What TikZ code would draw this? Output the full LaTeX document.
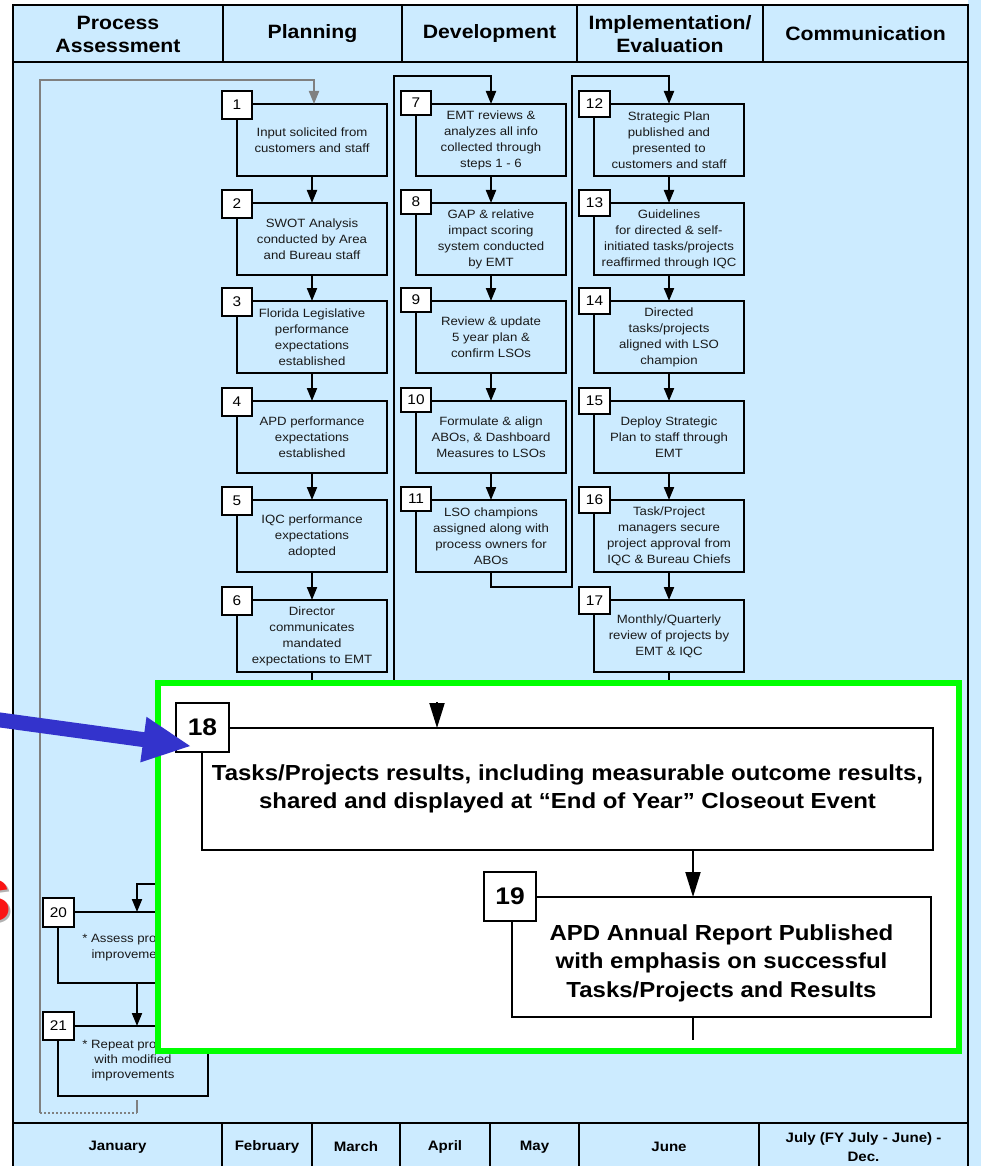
\documentclass[tikz,border=0pt]{standalone}
\usepackage{fontspec}
\setmainfont{Liberation Sans}[FakeStretch=1.1]
\usetikzlibrary{arrows.meta}
\definecolor{paleblue}{RGB}{204,235,255}
\definecolor{ink}{RGB}{26,26,26}
\definecolor{loopgray}{RGB}{128,128,128}
\definecolor{hilite}{RGB}{0,255,0}
\definecolor{pointer}{RGB}{51,51,204}
\definecolor{alertred}{RGB}{250,20,20}

\begin{document}
\begin{tikzpicture}[x=1pt,y=-1pt,
  rule/.style={line width=2.4pt},
  hdr/.style={font=\fontsize{19.3}{23}\selectfont\bfseries, align=center, inner sep=0pt},
  ftr/.style={font=\fontsize{13.7}{19}\selectfont\bfseries, align=center, inner sep=0pt},
  stepbox/.style={draw, line width=2.6pt, fill=paleblue, inner sep=0pt, outer sep=0pt,
    minimum width=150pt, minimum height=72pt, anchor=north west, align=center,
    text=ink, font=\fontsize{12}{16}\selectfont},
  numbox/.style={draw, line width=2.6pt, fill=white, inner sep=0pt, outer sep=0pt,
    minimum width=30pt, minimum height=28pt, anchor=north west, font=\fontsize{14}{14}\selectfont},
  bignum/.style={draw, line width=2.6pt, fill=white, inner sep=0pt, outer sep=0pt,
    minimum width=53pt, minimum height=49pt, anchor=north west, font=\fontsize{24}{24}\selectfont\bfseries},
  result/.style={draw, line width=2.6pt, fill=white, inner sep=0pt, outer sep=0pt, anchor=north west},
  bigtext/.style={align=center, font=\fontsize{21.8}{28.5}\selectfont\bfseries, inner sep=0pt},
  wire/.style={line width=2pt},
  flow/.style={line width=2pt, -{Triangle[length=13pt,width=10pt]}},
  bigflow/.style={line width=2pt, -{Triangle[length=25pt,width=15pt]}},
  loopline/.style={line width=2pt, draw=loopgray}
]
\useasboundingbox (0,0) rectangle (981,1166);

% page and frame background
\fill[white] (0,0) rectangle (981,1166);
\fill[paleblue] (13,5) rectangle (981,1166);
\fill[paleblue] (968,0) rectangle (981,1166);

% header and footer rules
\draw[rule] (13,1166) -- (13,5) -- (968,5) -- (968,1166);
\draw[rule] (13,62) -- (968,62);
\draw[rule] (13,1123) -- (968,1123);
\foreach \x in {223,402,577,763} \draw[rule] (\x,5) -- (\x,62);
\foreach \x in {222,312,400,490,579,759} \draw[rule] (\x,1123) -- (\x,1166);

% phase headings
\node[hdr] (hpa) at (118,34) {Process\\Assessment};
\node[hdr] (hpl) at (312.5,34) {Planning};
\node[hdr] (hdv) at (489.5,34) {Development};
\node[hdr] (hie) at (670,34) {Implementation/\\Evaluation};
\node[hdr] (hcm) at (865.5,34) {Communication};

% month row
\node[ftr] (mjan) at (117.5,1147) {January};
\node[ftr] (mfeb) at (267,1147) {February};
\node[ftr] (mmar) at (356,1147) {March};
\node[ftr] (mapr) at (445,1147) {April};
\node[ftr] (mmay) at (534.5,1147) {May};
\node[ftr] (mjun) at (669,1147) {June};
\node[ftr] (mjul) at (863.5,1147) {July (FY July - June) -\\Dec.};

% planning column
\node[stepbox] (b1) at (237,104) {Input solicited from\\customers and staff};
\node[stepbox] (b2) at (237,203) {SWOT Analysis\\conducted by Area\\and Bureau staff};
\node[stepbox] (b3) at (237,301) {Florida Legislative\\performance\\expectations\\established};
\node[stepbox] (b4) at (237,401) {APD performance\\expectations\\established};
\node[stepbox] (b5) at (237,500) {IQC performance\\expectations\\adopted};
\node[stepbox] (b6) at (237,600) {Director\\communicates\\mandated\\expectations to EMT};
\node[numbox] (n1) at (222,91) {1};
\node[numbox] (n2) at (222,190) {2};
\node[numbox] (n3) at (222,288) {3};
\node[numbox] (n4) at (222,388) {4};
\node[numbox] (n5) at (222,487) {5};
\node[numbox] (n6) at (222,587) {6};

% development column
\node[stepbox] (b7) at (416,104) {EMT reviews \&\\analyzes all info\\collected through\\steps 1 - 6};
\node[stepbox] (b8) at (416,203) {GAP \& relative\\impact scoring\\system conducted\\by EMT};
\node[stepbox] (b9) at (416,301) {Review \& update\\5 year plan \&\\confirm LSOs};
\node[stepbox] (b10) at (416,401) {Formulate \& align\\ABOs, \& Dashboard\\Measures to LSOs};
\node[stepbox] (b11) at (416,500) {LSO champions\\assigned along with\\process owners for\\ABOs};
\node[numbox, minimum height=24pt] (n7) at (401,91) {7};
\node[numbox, minimum height=24pt] (n8) at (401,190) {8};
\node[numbox, minimum height=24pt] (n9) at (401,288) {9};
\node[numbox, minimum height=24pt] (n10) at (401,388) {10};
\node[numbox, minimum height=24pt] (n11) at (401,487) {11};

% implementation column
\node[stepbox] (b12) at (594,104) {Strategic Plan\\published and\\presented to\\customers and staff};
\node[stepbox] (b13) at (594,203) {Guidelines\\for directed \& self-\\initiated tasks/projects\\reaffirmed through IQC};
\node[stepbox] (b14) at (594,301) {Directed\\tasks/projects\\aligned with LSO\\champion};
\node[stepbox] (b15) at (594,401) {Deploy Strategic\\Plan to staff through\\EMT};
\node[stepbox] (b16) at (594,500) {Task/Project\\managers secure\\project approval from\\IQC \& Bureau Chiefs};
\node[stepbox] (b17) at (594,600) {Monthly/Quarterly\\review of projects by\\EMT \& IQC};
\node[numbox, minimum width=31pt, minimum height=26pt] (n12) at (579,91) {12};
\node[numbox, minimum width=31pt, minimum height=26pt] (n13) at (579,190) {13};
\node[numbox, minimum width=31pt, minimum height=26pt] (n14) at (579,288) {14};
\node[numbox, minimum width=31pt, minimum height=26pt] (n15) at (579,388) {15};
\node[numbox, minimum width=31pt, minimum height=26pt] (n16) at (579,487) {16};
\node[numbox, minimum width=31pt, minimum height=27pt] (n17) at (579,587) {17};

% process assessment boxes
\node[stepbox, minimum height=71pt, font=\fontsize{12}{16}\selectfont] (b20) at (58,912) {* Assess process\\improvements};
\node[stepbox, minimum height=70pt, font=\fontsize{12}{15}\selectfont] (b21) at (58,1026) {* Repeat process\\with modified\\improvements};
\node[numbox, minimum width=31pt, minimum height=29pt] (n20) at (43,898) {20};
\node[numbox, minimum width=31pt, minimum height=28pt] (n21) at (43,1012) {21};

% flow within columns
\foreach \a/\b in {b1/b2,b2/b3,b3/b4,b4/b5,b5/b6,b7/b8,b8/b9,b9/b10,b10/b11,b12/b13,b13/b14,b14/b15,b15/b16,b16/b17}
  \draw[flow] (\a.south) -- (\b.north);

% column to column links
\coordinate (c2low) at (394,700);
\coordinate (c2top) at (394,76);
\draw[flow] (c2low) -- (c2top) -| (b7.north);
\coordinate (c3low) at (572,587);
\coordinate (c3top) at (572,76);
\draw[flow] (b11.south) |- (c3low) -- (c3top) -| (b12.north);
\coordinate (d6) at (312,700);
\draw[wire] (b6.south) -- (d6);
\coordinate (d17) at (669,700);
\draw[wire] (b17.south) -- (d17);

% assessment links
\coordinate (in20) at (175,884);
\draw[flow] (in20) -| ([xshift=4pt]b20.north);
\draw[flow] ([xshift=4pt]b20.south) -- ([xshift=4pt]b21.north);

% grey feedback loop back to step 1
\coordinate (gbot) at (40,1113);
\coordinate (gtop) at (40,80);
\coordinate (gend) at (137,1113);
\coordinate (gstub) at (137,1100);
\draw[loopline, -{Triangle[length=13pt,width=10pt]}] (gbot) -- (gtop) -| ([xshift=2pt]b1.north);
\draw[loopline, dotted] (gbot) -- (gend);
\draw[loopline] (gend) -- (gstub);

% highlighted panel with the closing steps
\node[draw=hilite, line width=6pt, fill=white, minimum width=801pt, minimum height=368pt,
  inner sep=0pt, outer sep=0pt, anchor=north west] (panel) at (157.5,683) {};

\node[result, minimum width=731pt, minimum height=122pt, bigtext] (b18) at (202,728)
  {Tasks/Projects results, including measurable outcome results,\\shared and displayed at “End of Year” Closeout Event};
\node[bignum] (n18) at (176,703) {18};
\coordinate (a18) at (437,702);
\draw[bigflow] (a18) -- (a18 |- b18.north);

\node[result, minimum width=419pt, minimum height=120pt] (b19) at (512,897) {};
\node[bigtext] (t19) at (721.5,963) {APD Annual Report Published\\with emphasis on successful\\Tasks/Projects and Results};
\node[bignum, minimum width=52pt] (n19) at (484,872) {19};
\coordinate (x19) at (693,0);
\draw[bigflow] (b18.south -| x19) -- (b19.north -| x19);
\coordinate (e19) at (693,1040);
\draw[wire] (b19.south -| x19) -- (e19);

% pointer arrow
\fill[pointer] (-9,711.2) -- (144.4,732.2) -- (146.5,716.8) -- (190,746)
  -- (140.3,762.4) -- (142.4,747) -- (-11,726) -- cycle;

% letter at the left margin
\begin{scope}
  \clip (0,0) rectangle (12,1166);
  \node[inner sep=0pt, anchor=east, text=gray!60, font=\fontsize{60}{60}\selectfont\bfseries] (sshade) at (14,903) {S};
  \node[inner sep=0pt, anchor=east, text=alertred, font=\fontsize{60}{60}\selectfont\bfseries] (sred) at (12,901) {S};
\end{scope}
\end{tikzpicture}
\end{document}
